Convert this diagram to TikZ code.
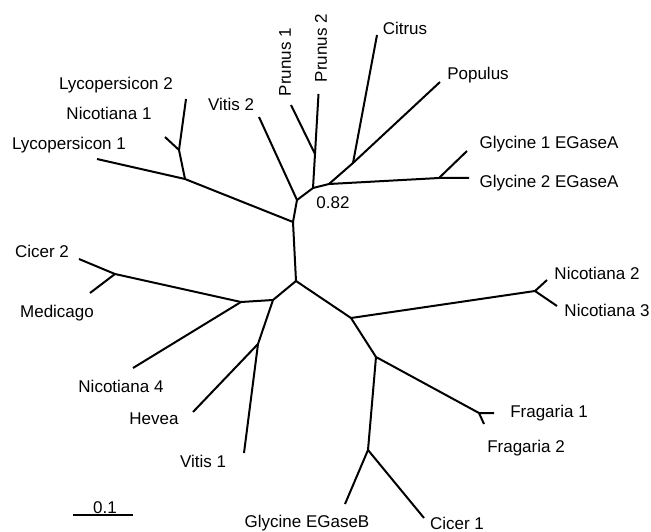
\documentclass[tikz,border=0pt]{standalone}
\usepackage{fontspec}
\setmainfont{Liberation Sans}
\begin{document}
\begin{tikzpicture}[x=1pt,y=-1pt,br/.style={line width=2pt,line join=round},
    lab/.style={inner sep=0pt,font=\fontsize{17}{20}\selectfont}]
    \useasboundingbox (0,0) rectangle (651,532);
    % inner nodes
    \coordinate (c) at (293,222);    \coordinate (g) at (296,281);
    \coordinate (b) at (185,179);    \coordinate (a) at (179,150);
    \coordinate (d) at (297,200);    \coordinate (e) at (313,188);
    \coordinate (pr) at (315,154);   \coordinate (f) at (329,184);
    \coordinate (cp) at (353,163);   \coordinate (gl) at (439,178);
    \coordinate (h) at (273,300);    \coordinate (i) at (241,302);
    \coordinate (cm) at (115,274);   \coordinate (j) at (258,344);
    \coordinate (k) at (351,318);    \coordinate (nn) at (535,291);
    \coordinate (l) at (376,357);    \coordinate (fr) at (479,413);
    \coordinate (m) at (368,450);
    % the tips
    \coordinate (tlyc1) at (97,159);   \coordinate (tlyc2) at (186,99);
    \coordinate (tnic1) at (165,137);  \coordinate (tvit2) at (259,117);
    \coordinate (tpru1) at (291,105);  \coordinate (tpru2) at (318.5,94);
    \coordinate (tcit) at (377,35);    \coordinate (tpop) at (440,82);
    \coordinate (tgly1) at (467,151);  \coordinate (tgly2) at (469,178);
    \coordinate (tcic2) at (79,259);   \coordinate (tmed) at (90,293);
    \coordinate (tnic4) at (133,368);  \coordinate (thev) at (193,412);
    \coordinate (tvit1) at (244,453);  \coordinate (tnic2) at (547,280);
    \coordinate (tnic3) at (557,306);  \coordinate (tfra1) at (494,413);
    \coordinate (tfra2) at (484,424);  \coordinate (tglyb) at (345,504);
    \coordinate (tcic1) at (424,518);
    % the texts
    \node[lab] (lyc2) at (116,85) {Lycopersicon 2};
    \node[lab] (nic1) at (109,113) {Nicotiana 1};
    \node[lab] (lyc1) at (69,145) {Lycopersicon 1};
    \node[lab] (vit2) at (231,104) {Vitis 2};
    \node[lab,rotate=90] (pru1) at (285,62) {Prunus 1};
    \node[lab,rotate=90] (pru2) at (321,48) {Prunus 2};
    \node[lab] (cit) at (405,28) {Citrus};
    \node[lab] (pop) at (478,75) {Populus};
    \node[lab] (gly1) at (549,144) {Glycine 1 EGaseA};
    \node[lab] (gly2) at (549,183) {Glycine 2 EGaseA};
    \node[lab] (boot) at (333,203) {0.82};
    \node[lab] (cic2) at (42,251) {Cicer 2};
    \node[lab] (med) at (57,313) {Medicago};
    \node[lab] (nic4) at (121,386) {Nicotiana 4};
    \node[lab] (hev) at (154,419) {Hevea};
    \node[lab] (vit1) at (203,461) {Vitis 1};
    \node[lab] (glyb) at (307,523) {Glycine EGaseB};
    \node[lab] (cic1) at (457,523) {Cicer 1};
    \node[lab] (nic2) at (597,273) {Nicotiana 2};
    \node[lab] (nic3) at (607,310) {Nicotiana 3};
    \node[lab] (fra1) at (549,413) {Fragaria 1};
    \node[lab] (fra2) at (526,448) {Fragaria 2};

    % upper part
    \draw[br] (g) -- (c) -- (b) -- (tlyc1);
    \draw[br] (b) -- (a) -- (tlyc2);
    \draw[br] (a) -- (tnic1);
    \draw[br] (c) -- (d) -- (tvit2);
    \draw[br] (d) -- (e) -- (pr) -- (tpru1);
    \draw[br] (pr) -- (tpru2);
    \draw[br] (e) -- (f) -- (cp) -- (tcit);
    \draw[br] (cp) -- (tpop);
    \draw[br] (f) -- (gl) -- (tgly2);
    \draw[br] (gl) -- (tgly1);
    % lower left
    \draw[br] (g) -- (h) -- (i) -- (cm) -- (tcic2);
    \draw[br] (cm) -- (tmed);
    \draw[br] (i) -- (tnic4);
    \draw[br] (h) -- (j) -- (tvit1);
    \draw[br] (j) -- (thev);
    % lower right
    \draw[br] (g) -- (k) -- (nn) -- (tnic2);
    \draw[br] (nn) -- (tnic3);
    \draw[br] (k) -- (l) -- (fr) -- (tfra1);
    \draw[br] (fr) -- (tfra2);
    \draw[br] (l) -- (m) -- (tglyb);
    \draw[br] (m) -- (tcic1);

    % scale bar
    \coordinate (sb1) at (73,515);  \coordinate (sb2) at (133,515);
    \draw[br] (sb1) -- (sb2);
    \node[lab] (sbl) at (105,508) {0.1};
\end{tikzpicture}
\end{document}
